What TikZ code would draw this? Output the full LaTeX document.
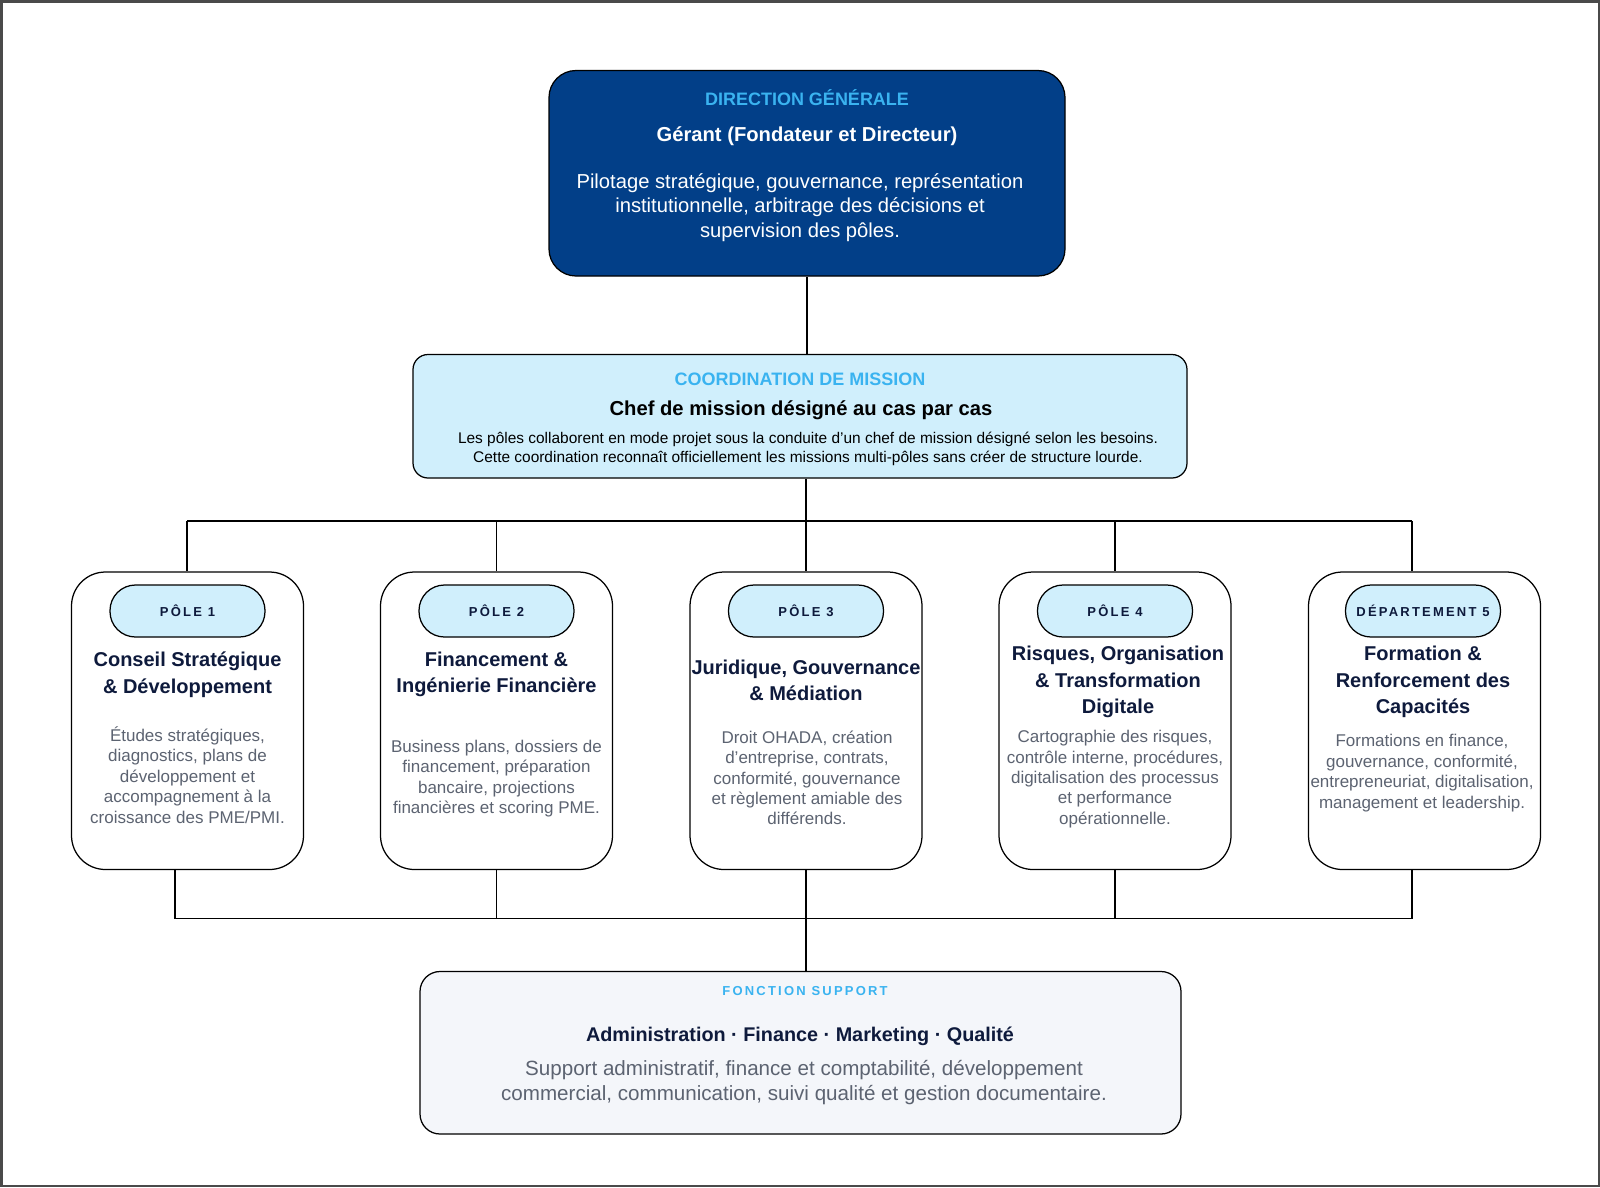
\documentclass[tikz,border=0pt]{standalone}
\usepackage{fontspec}
\setmainfont{Liberation Sans}
\newfontfamily\trackfont[LetterSpace=17]{Liberation Sans}
\usetikzlibrary{calc}
\usetikzlibrary{positioning}
\definecolor{dirBlue}{HTML}{023F88}
\definecolor{skyText}{HTML}{3AB3F0}
\definecolor{paleBlue}{HTML}{D0EFFC}
\definecolor{navyText}{HTML}{0E1A3C}
\definecolor{greyText}{HTML}{5C6371}
\definecolor{supportFill}{HTML}{F4F6FA}
\definecolor{frameGrey}{HTML}{4A4A4A}
\tikzset{every picture/.style={line width=1.25pt}}
\tikzset{
  dirbox/.style={draw=black, fill=dirBlue, rounded corners=27pt, minimum width=516pt, minimum height=205.5pt},
  coordbox/.style={draw=black, fill=paleBlue, rounded corners=15pt, minimum width=774pt, minimum height=123.5pt},
  polebox/.style={draw=black, fill=white, rounded corners=34pt, minimum width=232pt, minimum height=297.5pt},
  badge/.style={draw=black, fill=paleBlue, rounded corners=25.5pt, minimum width=155pt, minimum height=52pt,
    font=\trackfont\bfseries\fontsize{13}{15}\selectfont, text=navyText},
  supbox/.style={draw=black, fill=supportFill, rounded corners=20pt, minimum width=761pt, minimum height=162.5pt},
  kicker/.style={font=\bfseries\fontsize{18}{22}\selectfont, text=skyText, inner sep=0pt},
  headline/.style={font=\bfseries\fontsize{20.2}{25}\selectfont, inner sep=0pt},
  poletitle/.style={font=\bfseries\fontsize{20}{26.6}\selectfont, text=navyText, align=center, inner sep=0pt},
  poledesc/.style={font=\fontsize{17}{20.4}\selectfont, text=greyText, align=center, inner sep=0pt}
}

\begin{document}
\begin{tikzpicture}[x=1pt,y=-1pt]
\useasboundingbox (0,0) rectangle (1600,1187);
\draw[frameGrey,line width=2.5pt] (1.25,1.25) rectangle (1598.75,1185.75);

\node[dirbox] (dg) at (807,173.25) {};
\node[kicker] (dgkick) at (807,98) {DIRECTION GÉNÉRALE};
\node[headline,text=white] (dghead) at (807,136) {Gérant (Fondateur et Directeur)};
\node[font=\fontsize{20.2}{24.5}\selectfont, text=white, align=center, inner sep=0pt] (dgbody) at (800,207.5)
  {Pilotage stratégique, gouvernance, représentation\\institutionnelle, arbitrage des décisions et\\supervision des pôles.};

\node[coordbox] (coord) at (800,416.25) {};
\node[kicker] (coordkick) at (800,379) {COORDINATION DE MISSION};
\node[headline,text=black] (coordhead) at (801,410) {Chef de mission désigné au cas par cas};
\node[font=\fontsize{15.45}{19.5}\selectfont, align=center, inner sep=0pt] (coordbody) at (808,449)
  {Les pôles collaborent en mode projet sous la conduite d’un chef de mission désigné selon les besoins.\\
   Cette coordination reconnaît officiellement les missions multi-pôles sans créer de structure lourde.};

\node[polebox] (p1) at (187.5,720.75) {};
\node[badge] (b1) at (187.5,611) {PÔLE 1};
\node[poletitle] (t1) at (187.5,674.5) {Conseil Stratégique\\\& Développement};
\node[poledesc] (d1) at (187.5,775) {Études stratégiques,\\diagnostics, plans de\\développement et\\accompagnement à la\\croissance des PME/PMI.};

\node[polebox] (p2) at (496.5,720.75) {};
\node[badge] (b2) at (496.5,611) {PÔLE 2};
\node[poletitle] (t2) at (496.5,674.5) {Financement \&\\Ingénierie Financière};
\node[poledesc] (d2) at (496.5,778.5) {Business plans, dossiers de\\financement, préparation\\bancaire, projections\\financières et scoring PME.};

\node[polebox] (p3) at (806,720.75) {};
\node[badge] (b3) at (806,611) {PÔLE 3};
\node[poletitle] (t3) at (806,680.5) {Juridique, Gouvernance\\\& Médiation};
\node[poledesc] (d3) at (807,778) {Droit OHADA, création\\d’entreprise, contrats,\\conformité, gouvernance\\et règlement amiable des\\différends.};

\node[polebox] (p4) at (1115,720.75) {};
\node[badge] (b4) at (1115,611) {PÔLE 4};
\node[poletitle] (t4) at (1118,682) {Risques, Organisation\\\& Transformation\\Digitale};
\node[poledesc] (d4) at (1115,779) {Cartographie des risques,\\contrôle interne, procédures,\\digitalisation des processus\\et performance\\opérationnelle.};

\node[polebox] (p5) at (1424.5,720.75) {};
\node[badge] (b5) at (1423,611) {DÉPARTEMENT 5};
\node[poletitle] (t5) at (1423,682) {Formation \&\\Renforcement des\\Capacités};
\node[poledesc] (d5) at (1422,773) {Formations en finance,\\gouvernance, conformité,\\entrepreneuriat, digitalisation,\\management et leadership.};

\node[supbox] (sup) at (800.5,1052.75) {};
\node[font=\trackfont\bfseries\fontsize{13}{15}\selectfont, text=skyText, inner sep=0pt] (supkick) at (805,991) {FONCTION SUPPORT};
\node[headline,text=navyText,font=\bfseries\fontsize{19.8}{25}\selectfont] (suphead) at (800,1036) {Administration · Finance · Marketing · Qualité};
\node[font=\fontsize{20.6}{25.5}\selectfont, text=greyText, align=center, inner sep=0pt] (supbody) at (804,1082.5)
  {Support administratif, finance et comptabilité, développement\\commercial, communication, suivi qualité et gestion documentaire.};

\coordinate (tl) at (187,521);
\coordinate (tr) at (1412,521);
\coordinate (bl) at (175,918.5);
\coordinate (br) at (1412,918.5);
\draw (dg.south) -- (dg.south |- coord.north);
\draw (coord.south -| p3.north) -- (p3.north);
\draw (tl) -- (tr);
\draw (tl) -- (tl |- p1.north);
\draw (p2.north |- tl) -- (p2.north);
\draw (p4.north |- tl) -- (p4.north);
\draw (tr) -- (tr |- p5.north);
\draw (bl) -- (br);
\draw (bl |- p1.south) -- (bl);
\draw (p2.south) -- (p2.south |- bl);
\draw (p3.south) -- (p3.south |- sup.north);
\draw (p4.south) -- (p4.south |- bl);
\draw (br |- p5.south) -- (br);
\end{tikzpicture}
\end{document}
